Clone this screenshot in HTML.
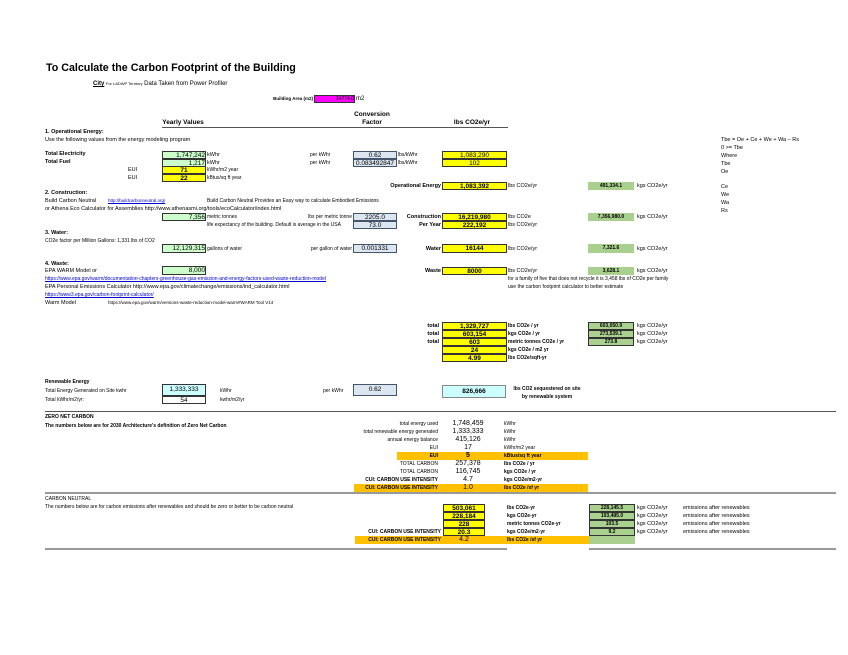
<!DOCTYPE html>
<html><head><meta charset="utf-8"><style>
body{margin:0;width:848px;height:655px;background:#fff;position:relative;overflow:hidden;font-family:"Liberation Sans",Arial,sans-serif;color:#000}
.t{position:absolute;font-size:5.5px;line-height:8px;white-space:nowrap}
.r{text-align:right}
.c{text-align:center}
.bd{font-weight:bold}
.b{position:absolute;box-sizing:border-box;border:1px solid #333;text-align:center;font-size:6.5px;line-height:7px;white-space:nowrap;overflow:hidden}
.g{background:#ccffcc}.y{background:#ffff00}.bl{background:#dce6f1;border-color:#44546a}.rg{background:#a9d08e;border-color:#a9d08e;font-weight:bold;font-size:5px}
.ln{position:absolute;height:1px;background:#555}
.lk{color:#00c;text-decoration:underline}
</style></head><body>
<div class="t bd" style="left:46px;top:61px;font-size:10.7px;line-height:14px">To Calculate the Carbon Footprint of the Building</div>
<div class="t" style="left:93px;top:80px"><span class="bd" style="text-decoration:underline;font-size:6px">City</span> <span style="font-size:4px">For LADWP Territory</span> <span style="font-size:6px">Data Taken from Power Profiler</span></div>
<div class="t bd r" style="left:200px;width:113px;top:95px;font-size:4.5px">Building Area (m2)</div>
<div class="b" style="left:314px;top:95px;width:41px;height:8px;background:#ff00ff;font-size:5px;text-align:right">34774.0</div>
<div class="t" style="left:356px;top:95px;font-size:6px">m2</div>
<div class="t bd c" style="left:330px;width:84px;top:111px;font-size:6.5px">Conversion</div>
<div class="t bd c" style="left:330px;width:84px;top:119px;font-size:6.5px">Factor</div>
<div class="t bd c" style="left:140px;width:86px;top:119px;font-size:6.5px">Yearly Values</div>
<div class="t bd c" style="left:430px;width:84px;top:119px;font-size:6.5px">lbs CO2e/yr</div>
<div class="ln" style="left:162px;top:127px;width:346px"></div>
<div class="t bd" style="left:45px;top:128px">1. Operational Energy:</div>
<div class="t" style="left:45px;top:136px">Use the following values from the energy modeling program</div>
<div class="t bd" style="left:45px;top:150px">Total Electricity</div>
<div class="t bd" style="left:45px;top:158px">Total Fuel</div>
<div class="b g" style="left:162px;top:151px;width:44px;height:8px;text-align:right">1,747,242</div>
<div class="b g" style="left:162px;top:159px;width:44px;height:8px;text-align:right">1,217</div>
<div class="t" style="left:207px;top:151px">kWhr</div><div class="t" style="left:207px;top:159px">kWhr</div>
<div class="t" style="left:128px;top:166px">EUI</div><div class="t" style="left:128px;top:174px">EUI</div>
<div class="b y bd" style="left:162px;top:166px;width:44px;height:8px">71</div>
<div class="b y bd" style="left:162px;top:174px;width:44px;height:8px">22</div>
<div class="t" style="left:207px;top:166px;font-size:5px">kWhr/m2 year</div>
<div class="t" style="left:207px;top:174px;font-size:5px">kBtus/sq ft year</div>
<div class="t" style="left:310px;top:151px;font-size:5px">per kWhr</div><div class="t" style="left:310px;top:159px;font-size:5px">per kWhr</div>
<div class="b bl" style="left:353px;top:151px;width:44px;height:8px">0.62</div>
<div class="b bl" style="left:353px;top:159px;width:44px;height:8px">0.083492847</div>
<div class="t" style="left:398px;top:151px;font-size:5px">lbs/kWhr</div><div class="t" style="left:398px;top:159px;font-size:5px">lbs/kWhr</div>
<div class="b y" style="left:442px;top:151px;width:65px;height:8px">1,083,290</div>
<div class="b y" style="left:442px;top:159px;width:65px;height:8px">102</div>
<div class="t" style="left:721px;top:136px">Tbe = Oe + Ce + We + Wa – Rs</div>
<div class="t" style="left:721px;top:144px">0 &gt;= Tbe</div>
<div class="t" style="left:721px;top:152px">Where</div>
<div class="t" style="left:721px;top:160px">Tbe</div>
<div class="t" style="left:721px;top:168px">Oe</div>
<div class="t" style="left:721px;top:183px">Ce</div>
<div class="t" style="left:721px;top:191px">We</div>
<div class="t" style="left:721px;top:199px">Wa</div>
<div class="t" style="left:721px;top:207px">Rs</div>
<div class="t bd r" style="left:340px;width:101px;top:182px">Operational Energy</div>
<div class="b y bd" style="left:442px;top:182px;width:65px;height:8px">1,083,392</div>
<div class="t" style="left:508px;top:182px">lbs CO2e/yr</div>
<div class="b rg" style="left:588px;top:182px;width:46px;height:8px">491,334.1</div>
<div class="t" style="left:637px;top:182px">kgs CO2e/yr</div>

<div class="t bd" style="left:45px;top:189px">2. Construction:</div>
<div class="t" style="left:45px;top:197px">Build Carbon Neutral</div>
<div class="t lk" style="left:108px;top:197px;font-size:4.5px">http://buildcarbonneutral.org/</div>
<div class="t" style="left:207px;top:197px;font-size:5px">Build Carbon Neutral Provides an Easy way to calculate Embodied Emissions</div>
<div class="t" style="left:45px;top:205px">or Athena Eco Calculator for Assemblies http://www.athenasmi.org/tools/ecoCalculator/index.html</div>
<div class="b g" style="left:162px;top:213px;width:44px;height:8px;text-align:right">7,356</div>
<div class="t" style="left:207px;top:213px;font-size:5px">metric tonnes</div>
<div class="t r" style="left:260px;width:92px;top:213px;font-size:5px">lbs per metric tonne</div>
<div class="t" style="left:207px;top:221px;font-size:5px">life expectancy of the building. Default is average in the USA</div>
<div class="b bl" style="left:353px;top:213px;width:44px;height:8px">2205.0</div>
<div class="b bl" style="left:353px;top:221px;width:44px;height:8px">73.0</div>
<div class="t bd r" style="left:380px;width:61px;top:213px">Construction</div>
<div class="t bd r" style="left:380px;width:61px;top:221px">Per Year</div>
<div class="b y bd" style="left:442px;top:213px;width:65px;height:8px">16,219,980</div>
<div class="b y bd" style="left:442px;top:221px;width:65px;height:8px">222,192</div>
<div class="t" style="left:508px;top:213px">lbs CO2e</div>
<div class="t" style="left:508px;top:221px">lbs CO2e/yr</div>
<div class="b rg" style="left:588px;top:213px;width:46px;height:8px">7,356,980.0</div>
<div class="t" style="left:637px;top:213px">kgs CO2e/yr</div>

<div class="t bd" style="left:45px;top:229px">3. Water:</div>
<div class="t" style="left:45px;top:237px;font-size:5px">CO2e factor per Million Gallons: 1,331 lbs of CO2</div>
<div class="b g" style="left:162px;top:244px;width:44px;height:9px;text-align:right">12,129,315</div>
<div class="t" style="left:207px;top:245px;font-size:5px">gallons of water</div>
<div class="t r" style="left:260px;width:92px;top:245px;font-size:5px">per gallon of water</div>
<div class="b bl" style="left:353px;top:244px;width:44px;height:9px">0.001331</div>
<div class="t bd r" style="left:380px;width:61px;top:245px">Water</div>
<div class="b y bd" style="left:442px;top:244px;width:65px;height:9px">16144</div>
<div class="t" style="left:508px;top:245px">lbs CO2e/yr</div>
<div class="b rg" style="left:588px;top:244px;width:46px;height:9px">7,321.6</div>
<div class="t" style="left:637px;top:245px">kgs CO2e/yr</div>

<div class="t bd" style="left:45px;top:260px">4. Waste:</div>
<div class="t" style="left:45px;top:267px">EPA WARM Model or</div>
<div class="b g" style="left:162px;top:266px;width:44px;height:9px;text-align:right">8,000</div>
<div class="t bd r" style="left:380px;width:61px;top:267px">Waste</div>
<div class="b y bd" style="left:442px;top:267px;width:65px;height:8px">8000</div>
<div class="t" style="left:508px;top:267px">lbs CO2e/yr</div>
<div class="b rg" style="left:588px;top:267px;width:46px;height:8px">3,628.1</div>
<div class="t" style="left:637px;top:267px">kgs CO2e/yr</div>
<div class="t lk" style="left:45px;top:275px;font-size:5px">https://www.epa.gov/warm/documentation-chapters-greenhouse-gas-emission-and-energy-factors-used-waste-reduction-model</div>
<div class="t" style="left:508px;top:275px;font-size:5px">for a family of five that does not recycle it is 3,458 lbs of CO2e per family</div>
<div class="t" style="left:45px;top:283px">EPA Personal Emissions Calculator http://www.epa.gov/climatechange/emissions/ind_calculator.html</div>
<div class="t" style="left:508px;top:283px;font-size:5px">use the carbon footprint calculator to better estimate</div>
<div class="t lk" style="left:45px;top:291px;font-size:5px">https://www3.epa.gov/carbon-footprint-calculator/</div>
<div class="t" style="left:45px;top:299px">Warm Model</div>
<div class="t" style="left:108px;top:299px;font-size:4.5px">https://www.epa.gov/warm/versions-waste-reduction-model-warm#WARM Tool V14</div>

<div class="t bd r" style="left:400px;width:39px;top:322px">total</div>
<div class="t bd r" style="left:400px;width:39px;top:330px">total</div>
<div class="t bd r" style="left:400px;width:39px;top:338px">total</div>
<div class="b y bd" style="left:442px;top:322px;width:65px;height:8px">1,329,727</div>
<div class="b y bd" style="left:442px;top:330px;width:65px;height:8px">603,154</div>
<div class="b y bd" style="left:442px;top:338px;width:65px;height:8px">603</div>
<div class="b y bd" style="left:442px;top:346px;width:65px;height:8px">24</div>
<div class="b y bd" style="left:442px;top:354px;width:65px;height:8px">4.99</div>
<div class="t bd" style="left:508px;top:322px;font-size:5px">lbs CO2e / yr</div>
<div class="t bd" style="left:508px;top:330px;font-size:5px">kgs CO2e / yr</div>
<div class="t bd" style="left:508px;top:338px;font-size:5px">metric tonnes CO2e / yr</div>
<div class="t bd" style="left:508px;top:346px;font-size:5px">kgs CO2e / m2 yr</div>
<div class="t bd" style="left:508px;top:354px;font-size:5px">lbs CO2e/sqft-yr</div>
<div class="b rg" style="left:588px;top:322px;width:46px;height:8px;border-color:#333">603,050.9</div>
<div class="b rg" style="left:588px;top:330px;width:46px;height:8px;border-color:#333">273,539.1</div>
<div class="b rg" style="left:588px;top:338px;width:46px;height:8px;border-color:#333">273.8</div>
<div class="t" style="left:637px;top:322px">kgs CO2e/yr</div>
<div class="t" style="left:637px;top:330px">kgs CO2e/yr</div>
<div class="t" style="left:637px;top:338px">kgs CO2e/yr</div>

<div class="t bd" style="left:45px;top:378px;font-size:5px">Renewable Energy</div>
<div class="t" style="left:45px;top:387px;font-size:5px">Total Energy Generated on Site kwhr</div>
<div class="t" style="left:45px;top:396px;font-size:5px">Total kWhr/m2/yr:</div>
<div class="b" style="left:162px;top:384px;width:44px;height:12px;line-height:10px;background:#ccffff">1,333,333</div>
<div class="b" style="left:162px;top:396px;width:44px;height:8px">54</div>
<div class="t" style="left:220px;top:387px;font-size:5px">kWhr</div>
<div class="t" style="left:220px;top:396px;font-size:5px">kwhr/m2/yr</div>
<div class="t" style="left:323px;top:387px;font-size:5px">per kWhr</div>
<div class="b bl" style="left:353px;top:384px;width:44px;height:12px;line-height:10px">0.62</div>
<div class="b bd" style="left:442px;top:385px;width:64px;height:13px;line-height:11px;background:#ccffff;border-color:#888">826,666</div>
<div class="t bd c" style="left:508px;top:385px;width:78px;font-size:5px">lbs CO2 sequestered on site</div>
<div class="t bd c" style="left:508px;top:393px;width:78px;font-size:5px">by renewable system</div>

<div class="ln" style="left:45px;top:411px;width:791px"></div>
<div class="t bd" style="left:45px;top:413px;font-size:5px">ZERO NET CARBON</div>
<div class="t bd" style="left:45px;top:422px;font-size:5px">The numbers below are for 2030 Architecture's definition of Zero Net Carbon</div>
<div style="position:absolute;left:397px;top:452px;width:191px;height:8px;background:#ffc000"></div>
<div style="position:absolute;left:354px;top:484px;width:234px;height:8px;background:#ffc000"></div>
<div class="t r" style="left:300px;width:138px;top:420px;font-size:5px">total energy used</div>
<div class="t r" style="left:300px;width:138px;top:428px;font-size:5px">total renewable energy generated</div>
<div class="t r" style="left:300px;width:138px;top:436px;font-size:5px">annual energy balance</div>
<div class="t r" style="left:300px;width:138px;top:444px;font-size:5px">EUI</div>
<div class="t r bd" style="left:300px;width:138px;top:452px;font-size:5px">EUI</div>
<div class="t r" style="left:300px;width:138px;top:460px;font-size:5px">TOTAL CARBON</div>
<div class="t r" style="left:300px;width:138px;top:468px;font-size:5px">TOTAL CARBON</div>
<div class="t r bd" style="left:300px;width:138px;top:476px;font-size:5px">CUI: CARBON USE INTENSITY</div>
<div class="t r bd" style="left:300px;width:138px;top:484px;font-size:5px">CUI: CARBON USE INTENSITY</div>
<div class="t c" style="left:440px;width:56px;top:420px;font-size:7px">1,748,459</div>
<div class="t c" style="left:440px;width:56px;top:428px;font-size:7px">1,333,333</div>
<div class="t c" style="left:440px;width:56px;top:436px;font-size:7px">415,126</div>
<div class="t c" style="left:440px;width:56px;top:444px;font-size:7px">17</div>
<div class="t c bd" style="left:440px;width:56px;top:452px;font-size:7px">5</div>
<div class="t c" style="left:440px;width:56px;top:460px;font-size:7px">257,378</div>
<div class="t c" style="left:440px;width:56px;top:468px;font-size:7px">116,745</div>
<div class="t c" style="left:440px;width:56px;top:476px;font-size:7px">4.7</div>
<div class="t c" style="left:440px;width:56px;top:484px;font-size:7px">1.0</div>
<div class="t" style="left:504px;top:420px;font-size:5px">kWhr</div>
<div class="t" style="left:504px;top:428px;font-size:5px">kWhr</div>
<div class="t" style="left:504px;top:436px;font-size:5px">kWhr</div>
<div class="t" style="left:504px;top:444px;font-size:5px">kWhr/m2 year</div>
<div class="t bd" style="left:504px;top:452px;font-size:5px">kBtus/sq ft year</div>
<div class="t bd" style="left:504px;top:460px;font-size:5px">lbs CO2e / yr</div>
<div class="t bd" style="left:504px;top:468px;font-size:5px">kgs CO2e / yr</div>
<div class="t bd" style="left:504px;top:476px;font-size:5px">kgs CO2e/m2-yr</div>
<div class="t bd" style="left:504px;top:484px;font-size:5px">lbs CO2e /sf  yr</div>

<div class="ln" style="left:45px;top:492px;width:791px;background:#999;height:2px"></div>
<div class="t" style="left:45px;top:495px;font-size:5px">CARBON NEUTRAL</div>
<div class="t" style="left:45px;top:503px;font-size:5px">The numbers below are for carbon emissions after renewables and should be zero or better to be carbon neutral</div>
<div style="position:absolute;left:355px;top:536px;width:234px;height:8px;background:#ffc000"></div>
<div style="position:absolute;left:589px;top:536px;width:46px;height:8px;background:#a9d08e"></div>
<div class="b y bd" style="left:443px;top:504px;width:42px;height:8px">503,061</div>
<div class="b y bd" style="left:443px;top:512px;width:42px;height:8px">228,184</div>
<div class="b y bd" style="left:443px;top:520px;width:42px;height:8px">228</div>
<div class="b y bd" style="left:443px;top:528px;width:42px;height:8px">20.3</div>
<div class="t c" style="left:443px;width:42px;top:536px;font-size:7px">4.2</div>
<div class="t r bd" style="left:300px;width:141px;top:528px;font-size:5px">CUI: CARBON USE INTENSITY</div>
<div class="t r bd" style="left:300px;width:141px;top:536px;font-size:5px">CUI: CARBON USE INTENSITY</div>
<div class="t bd" style="left:507px;top:504px;font-size:5px">lbs CO2e-yr</div>
<div class="t bd" style="left:507px;top:512px;font-size:5px">kgs CO2e-yr</div>
<div class="t bd" style="left:507px;top:520px;font-size:5px">metric tonnes CO2e-yr</div>
<div class="t bd" style="left:507px;top:528px;font-size:5px">kgs CO2e/m2-yr</div>
<div class="t bd" style="left:507px;top:536px;font-size:5px">lbs CO2e /sf  yr</div>
<div class="b rg" style="left:589px;top:504px;width:46px;height:8px;border-color:#333">228,145.5</div>
<div class="b rg" style="left:589px;top:512px;width:46px;height:8px;border-color:#333">103,485.0</div>
<div class="b rg" style="left:589px;top:520px;width:46px;height:8px;border-color:#333">103.5</div>
<div class="b rg" style="left:589px;top:528px;width:46px;height:8px;border-color:#333">9.2</div>
<div class="t" style="left:637px;top:504px">kgs CO2e/yr</div>
<div class="t" style="left:637px;top:512px">kgs CO2e/yr</div>
<div class="t" style="left:637px;top:520px">kgs CO2e/yr</div>
<div class="t" style="left:637px;top:528px">kgs CO2e/yr</div>
<div class="t" style="left:683px;top:504px">emissions after renewables</div>
<div class="t" style="left:683px;top:512px">emissions after renewables</div>
<div class="t" style="left:683px;top:520px">emissions after renewables</div>
<div class="t" style="left:683px;top:528px">emissions after renewables</div>
<div class="ln" style="left:45px;top:548px;width:462px;background:#999;height:2px"></div>
<div class="ln" style="left:589px;top:548px;width:247px;background:#999;height:2px"></div>
</body></html>
